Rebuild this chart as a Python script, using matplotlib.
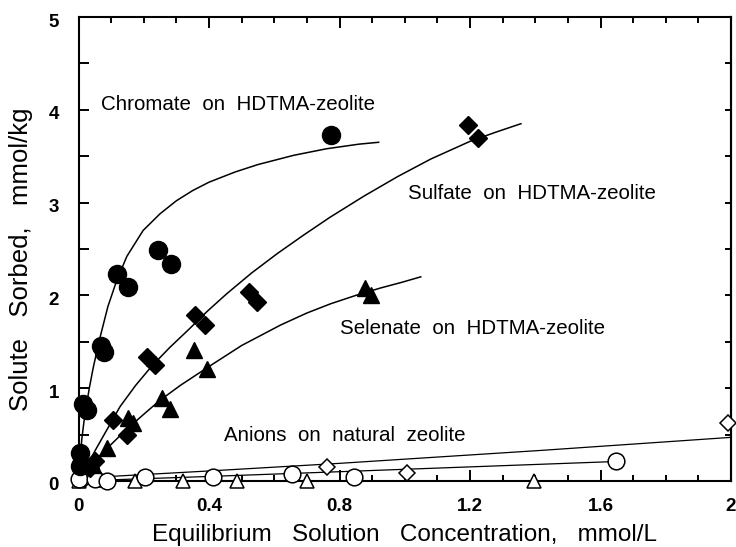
import numpy as np
import matplotlib
matplotlib.use("Agg")
import matplotlib.pyplot as plt
from matplotlib.ticker import MultipleLocator, FixedLocator
from matplotlib.transforms import ScaledTranslation

plt.rcParams['font.family'] = ['Liberation Sans', 'DejaVu Sans']

# ---- Sorption data (equilibrium conc. mmol/L, sorbed mmol/kg) ----
chromate_x = [0.004, 0.004, 0.014, 0.026, 0.070, 0.079, 0.117, 0.152, 0.243, 0.283, 0.773]
chromate_y = [0.30, 0.16, 0.83, 0.77, 1.45, 1.39, 2.23, 2.09, 2.49, 2.34, 3.73]

sulfate_x = [0.035, 0.051, 0.107, 0.148, 0.210, 0.235, 0.358, 0.389, 0.522, 0.547, 1.193, 1.223]
sulfate_y = [0.14, 0.21, 0.66, 0.50, 1.34, 1.25, 1.79, 1.68, 2.04, 1.93, 3.84, 3.70]

selenate_x = [0.045, 0.087, 0.153, 0.167, 0.256, 0.281, 0.353, 0.394, 0.878, 0.896]
selenate_y = [0.17, 0.35, 0.68, 0.62, 0.89, 0.78, 1.41, 1.21, 2.08, 2.00]

nat_circle_x = [0.0, 0.05, 0.088, 0.204, 0.413, 0.653, 0.843, 1.648]
nat_circle_y = [0.02, 0.02, 0.0, 0.04, 0.04, 0.075, 0.04, 0.21]

nat_diamond_x = [0.02, 0.06, 0.762, 1.008, 1.991]
nat_diamond_y = [0.02, 0.03, 0.154, 0.083, 0.62]

nat_triangle_x = [0.0, 0.066, 0.174, 0.321, 0.486, 0.701, 1.397]
nat_triangle_y = [0.0, 0.01, 0.0, 0.0, 0.0, 0.0, 0.0]

# ---- Fitted isotherm curves ----
chromate_fit_x = [0, 0.004, 0.010, 0.017, 0.023, 0.033, 0.045, 0.064, 0.09, 0.117, 0.148,
                  0.198, 0.25, 0.30, 0.35, 0.40, 0.48, 0.55, 0.66, 0.76, 0.86, 0.92]
chromate_fit_y = [0, 0.20, 0.45, 0.65, 0.79, 1.00, 1.22, 1.52, 1.88, 2.16, 2.42,
                  2.70, 2.88, 3.02, 3.13, 3.22, 3.33, 3.41, 3.51, 3.58, 3.63, 3.65]

sulfate_fit_x = [0, 0.056, 0.127, 0.175, 0.225, 0.28, 0.337, 0.395, 0.455, 0.53, 0.609,
                 0.69, 0.77, 0.875, 0.978, 1.08, 1.2, 1.28, 1.356]
sulfate_fit_y = [0, 0.36, 0.80, 1.03, 1.24, 1.44, 1.63, 1.83, 2.02, 2.24, 2.45,
                 2.65, 2.84, 3.07, 3.28, 3.47, 3.66, 3.76, 3.85]

selenate_fit_x = [0, 0.056, 0.087, 0.128, 0.168, 0.21, 0.25, 0.312, 0.394, 0.5, 0.619,
                  0.70, 0.773, 0.85, 0.926, 0.99, 1.049]
selenate_fit_y = [0, 0.24, 0.35, 0.49, 0.62, 0.75, 0.87, 1.03, 1.22, 1.46, 1.68,
                  1.81, 1.91, 2.00, 2.08, 2.14, 2.20]

nat_upper_x = [0, 0.41, 0.8, 1.42, 2.0]
nat_upper_y = [0.03, 0.11, 0.19, 0.33, 0.47]
nat_lower_x = [0, 0.41, 0.8, 1.648]
nat_lower_y = [0.0, 0.05, 0.10, 0.21]

x_tick_vals = [0, 0.4, 0.8, 1.2, 1.6, 2.0]
x_tick_text = ['0', '0.4', '0.8', '1.2', '1.6', '2']
y_tick_vals = [0, 1, 2, 3, 4, 5]
y_tick_text = ['0', '1', '2', '3', '4', '5']

fig = plt.figure(figsize=(7.36, 5.47), dpi=100)
ax = fig.add_axes([0.1067, 0.1207, 0.8865, 0.8482])

lw_curve = 1.1
ax.plot(chromate_fit_x, chromate_fit_y, color='black', lw=lw_curve, zorder=2)
ax.plot(sulfate_fit_x, sulfate_fit_y, color='black', lw=lw_curve, zorder=2)
ax.plot(selenate_fit_x, selenate_fit_y, color='black', lw=lw_curve, zorder=2)
ax.plot(nat_upper_x, nat_upper_y, color='black', lw=0.9, zorder=2, clip_on=False)
ax.plot(nat_lower_x, nat_lower_y, color='black', lw=0.9, zorder=2, clip_on=False)

# open symbols: natural zeolite
ax.plot(nat_triangle_x, nat_triangle_y, ls='none', marker='^', ms=10.5, mfc='white',
        mec='black', mew=1.1, zorder=3, clip_on=False)
ax.plot(nat_diamond_x, nat_diamond_y, ls='none', marker='D', ms=8, mfc='white',
        mec='black', mew=1.1, zorder=3, clip_on=False)
ax.plot(nat_circle_x, nat_circle_y, ls='none', marker='o', ms=12, mfc='white',
        mec='black', mew=1.1, zorder=3, clip_on=False)

# filled symbols: HDTMA-zeolite
ax.plot(selenate_x, selenate_y, ls='none', marker='^', ms=12, color='black', zorder=4, clip_on=False)
ax.plot(sulfate_x, sulfate_y, ls='none', marker='D', ms=9, color='black', zorder=4, clip_on=False)
ax.plot(chromate_x, chromate_y, ls='none', marker='o', ms=13, color='black', zorder=5, clip_on=False)

txt_kw = dict(fontsize=14.8, color='black', va='baseline', ha='left')
ax.text(0.068, 3.998, 'Chromate  on  HDTMA-zeolite', **txt_kw)
ax.text(1.009, 3.037, 'Sulfate  on  HDTMA-zeolite', **txt_kw)
ax.text(0.801, 1.582, 'Selenate  on  HDTMA-zeolite', **txt_kw)
ax.text(0.447, 0.431, 'Anions  on  natural  zeolite', **txt_kw)

ax.set_xlim(0, 2.0)
ax.set_ylim(0, 5)

ax.xaxis.set_major_locator(FixedLocator(x_tick_vals))
ax.set_xticklabels(x_tick_text)
ax.xaxis.set_minor_locator(MultipleLocator(0.1))
ax.yaxis.set_major_locator(FixedLocator(y_tick_vals))
ax.set_yticklabels(y_tick_text)
ax.yaxis.set_minor_locator(MultipleLocator(0.5))

ax.tick_params(axis='x', which='both', direction='in', top=True, bottom=True, width=1.4)
ax.tick_params(axis='x', which='major', length=8, pad=12, labelsize=13.5)
ax.tick_params(axis='x', which='minor', length=4.3)
ax.tick_params(axis='y', which='both', direction='in', left=True, right=False,
               length=7, width=1.4, pad=14, labelsize=13.5)
for lab in ax.get_xticklabels() + ax.get_yticklabels():
    lab.set_fontweight('bold')
for lab in ax.get_yticklabels():
    lab.set_transform(lab.get_transform() + ScaledTranslation(0, -3 / 100, fig.dpi_scale_trans))

sec = ax.secondary_yaxis('right')
sec.yaxis.set_major_locator(MultipleLocator(0.5))
sec.tick_params(direction='in', length=4.3, width=1.4, labelright=False)
sec.spines['right'].set_linewidth(1.5)

for sp in ax.spines.values():
    sp.set_linewidth(1.5)

fig.text(405 / 736, 1 - 535 / 547, 'Equilibrium   Solution   Concentration,   mmol/L',
         fontsize=17.5, ha='center', va='center')
fig.text(21 / 736, 1 - 259 / 547, 'Solute   Sorbed,   mmol/kg', fontsize=18.5,
         ha='center', va='center', rotation=90)

fig.savefig('out.png', dpi=100)
